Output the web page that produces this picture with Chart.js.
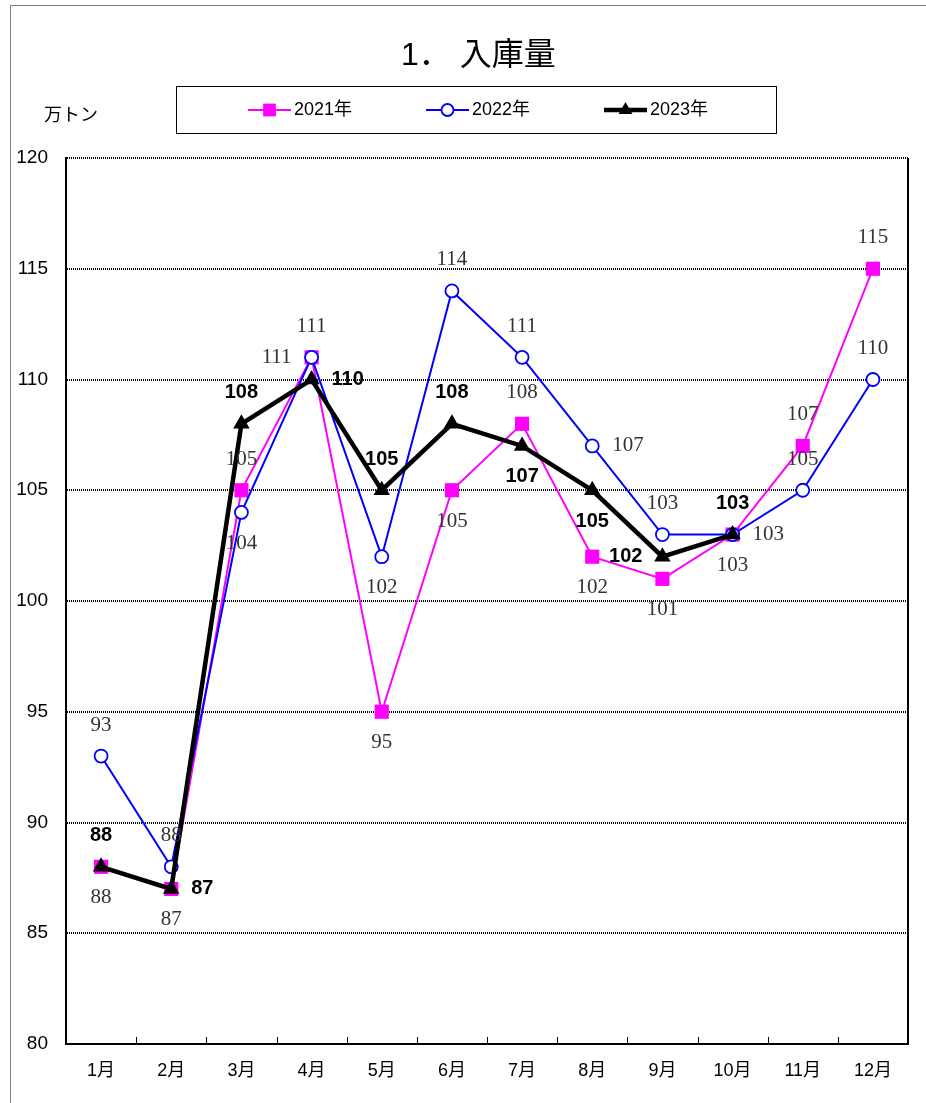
<!DOCTYPE html>
<html>
<head>
<meta charset="utf-8">
<script src="https://cdn.jsdelivr.net/npm/chart.js@4.4.1/dist/chart.umd.min.js"></script>
<style>
html,body{margin:0;padding:0;background:#fff;overflow:hidden;}
#frame{position:absolute;left:10px;top:5px;width:1000px;height:1200px;border-left:1.5px solid #808080;border-top:1.5px solid #808080;}
canvas{position:absolute;left:0;top:0;}
</style>
</head>
<body>
<div id="frame"></div>
<canvas id="Chart1" width="926" height="1103"></canvas>
<script>
// 1．入庫量 (万トン)

let months = ["1月","2月","3月","4月","5月","6月","7月","8月","9月","10月","11月","12月"];
let y2021 = [88, 87, 105, 111, 95, 105, 108, 102, 101, 103, 107, 115];
let y2022 = [93, 88, 104, 111, 102, 114, 111, 107, 103, 103, 105, 110];
let y2023 = [88, 87, 108, 110, 105, 108, 107, 105, 102, 103];
let seriesNames = ["2021年", "2022年", "2023年"];
let yMin = 80, yMax = 120, yStep = 5;

// where each value label sits relative to its point
let pos2021 = ["below","below","above","left","below","below","above","below","below","below","above","above"];
let pos2022 = ["above","above","below","above","below","above","above","right","above","right","above","above"];
let pos2023 = ["above","right","above","right","above","above","below","below","left","above"];

const sansJP = '"Liberation Sans", "Noto Sans CJK JP", sans-serif';

let data = {
    labels: months,
    datasets: [{
        label: seriesNames[0],
        data: y2021,
        borderColor: "#FF00FF",
        backgroundColor: "#FF00FF",
        borderWidth: 2,
        pointStyle: "rect",
        pointRadius: 10,
        pointBorderWidth: 0,
        order: 3,
        labelPos: pos2021,
        labelFont: '21px "Liberation Serif", serif',
        labelColor: "#333"
    }, {
        label: seriesNames[1],
        data: y2022,
        borderColor: "#0000FF",
        backgroundColor: "#FFFFFF",
        borderWidth: 2,
        pointStyle: "circle",
        pointRadius: 6.5,
        pointBorderWidth: 1.8,
        order: 2,
        labelPos: pos2022,
        labelFont: '21px "Liberation Serif", serif',
        labelColor: "#333"
    }, {
        label: seriesNames[2],
        data: y2023,
        borderColor: "#000000",
        backgroundColor: "#000000",
        borderWidth: 4.5,
        pointStyle: "triangle",
        pointRadius: 9.5,
        pointBorderWidth: 0,
        order: 1,
        labelPos: pos2023,
        labelFont: 'bold 20px "Liberation Sans", sans-serif',
        labelColor: "#000"
    }]
};

// value labels, title, legend, unit and the frame bits Excel draws
let extras = {
    id: "extras",
    afterDatasetsDraw(chart) {
        let ctx = chart.ctx;
        chart.data.datasets.forEach((ds, i) => {
            let meta = chart.getDatasetMeta(i);
            meta.data.forEach((pt, j) => {
                let p = ds.labelPos[j];
                let x = pt.x, y = pt.y, align = "center";
                if (p == "above") y -= 31;
                if (p == "below") y += 31;
                if (p == "right") { x += 20; align = "left"; }
                if (p == "left") { x -= 20; align = "right"; }
                ctx.save();
                ctx.font = ds.labelFont;
                ctx.fillStyle = ds.labelColor;
                ctx.textAlign = align;
                ctx.textBaseline = "middle";
                ctx.fillText(String(ds.data[j]), x, y);
                ctx.restore();
            });
        });
    },
    afterDraw(chart) {
        let ctx = chart.ctx;
        let area = chart.chartArea;
        let xs = chart.scales.x;
        ctx.save();

        // right border of plot
        ctx.strokeStyle = "#000";
        ctx.lineWidth = 2;
        ctx.beginPath();
        ctx.moveTo(area.right, area.top);
        ctx.lineTo(area.right, area.bottom);
        ctx.stroke();

        // inner tick marks between months
        ctx.lineWidth = 1;
        for (let i = 1; i < months.length; i++) {
            let tx = Math.round((xs.getPixelForTick(i - 1) + xs.getPixelForTick(i)) / 2) + 0.5;
            ctx.beginPath();
            ctx.moveTo(tx, area.bottom);
            ctx.lineTo(tx, area.bottom - 7);
            ctx.stroke();
        }

        // title
        ctx.fillStyle = "#000";
        ctx.font = "32px " + sansJP;
        ctx.textAlign = "left";
        ctx.textBaseline = "middle";
        ctx.fillText("1． 入庫量", 401, 56);

        // unit
        ctx.font = "18px " + sansJP;
        ctx.fillText("万トン", 44, 116);

        // legend box
        ctx.strokeStyle = "#000";
        ctx.lineWidth = 1;
        ctx.strokeRect(176.5, 86.5, 600, 47);
        let lx = [248, 426, 604];
        let ly = 110;
        chart.data.datasets.forEach((ds, i) => {
            ctx.strokeStyle = ds.borderColor;
            ctx.lineWidth = ds.borderWidth;
            ctx.beginPath();
            ctx.moveTo(lx[i], ly);
            ctx.lineTo(lx[i] + 43, ly);
            ctx.stroke();
            ctx.fillStyle = ds.backgroundColor;
            ctx.strokeStyle = ds.borderColor;
            ctx.lineWidth = ds.pointBorderWidth;
            Chart.helpers.drawPoint(ctx, {
                pointStyle: ds.pointStyle,
                radius: ds.pointStyle == "triangle" ? 8 : (ds.pointStyle == "rect" ? 9 : 6),
                borderWidth: ds.pointBorderWidth,
                rotation: 0
            }, lx[i] + 21.5, ly);
            ctx.fillStyle = "#000";
            ctx.font = "18px " + sansJP;
            ctx.textAlign = "left";
            ctx.fillText(ds.label, lx[i] + 46, ly);
        });
        ctx.restore();
    }
};

let config = {
    type: "line",
    data,
    options: {
        responsive: false,
        animation: false,
        events: [],
        layout: { padding: { top: 158, right: 18, bottom: 0, left: 0 } },
        plugins: {
            legend: { display: false },
            title: { display: false },
            tooltip: { enabled: false }
        },
        scales: {
            x: {
                offset: true,
                grid: { drawOnChartArea: false, drawTicks: false },
                border: { color: "#000", width: 2 },
                ticks: { color: "#000", font: { family: sansJP, size: 18 }, padding: 16 },
                afterFit: (s) => { s.height = 59; }
            },
            y: {
                min: yMin,
                max: yMax,
                grid: { color: "#000", lineWidth: 2, drawTicks: false },
                border: { color: "#000", width: 2, dash: [1, 1] },
                ticks: { stepSize: yStep, color: "#000", font: { family: sansJP, size: 19 }, padding: 18 },
                afterFit: (s) => { s.width = 66; }
            }
        }
    },
    plugins: [extras]
};

const myChart1 = new Chart("Chart1", config);
</script>
</body>
</html>
